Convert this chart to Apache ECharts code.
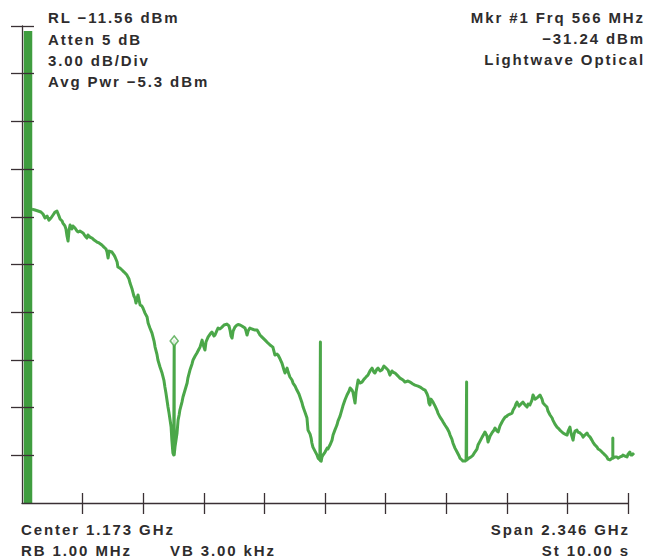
<!DOCTYPE html>
<html>
<head>
<meta charset="utf-8">
<script src="https://cdn.jsdelivr.net/npm/echarts@6/dist/echarts.min.js"></script>
<style>
  html, body { margin: 0; padding: 0; background: #ffffff; }
  #chart { width: 656px; height: 560px; }
  #chart svg text { letter-spacing: 1.9px; }
</style>
</head>
<body>
<div id="chart"></div>
<script>
// Spectrum analyser trace: frequency (MHz) and level (dBm) of each sweep point
const freqMHz = [
  15,27,39,50,58,66,74,81,89,97,
  105,112,120,124,132,135,143,147,151,155,
  159,163,170,174,182,190,194,201,213,221,
  228,232,240,248,256,267,275,286,294,302,
  306,310,314,325,333,337,345,348,356,364,
  372,383,391,395,403,406,410,414,418,426,
  434,441,445,453,461,465,472,480,488,492,
  499,503,511,519,526,530,534,538,542,546,
  550,554,557,561,564,566,566,566,569,573,
  577,581,585,588,596,600,608,616,619,627,
  635,639,647,654,662,666,674,677,685,689,
  697,705,712,720,724,732,736,743,751,759,
  770,778,782,786,790,794,801,809,813,821,
  828,840,844,848,852,859,867,879,887,894,
  898,906,918,925,929,937,948,952,956,964,
  968,976,983,991,995,1003,1007,1014,1022,1026,
  1034,1041,1049,1053,1061,1065,1072,1080,1084,1092,
  1096,1099,1103,1111,1119,1123,1130,1132,1132,1132,
  1135,1138,1142,1150,1158,1161,1169,1177,1181,1188,
  1196,1200,1208,1219,1227,1235,1243,1247,1254,1258,
  1266,1270,1278,1285,1293,1301,1305,1312,1316,1324,
  1332,1339,1343,1351,1355,1363,1370,1378,1382,1390,
  1394,1401,1409,1413,1421,1429,1436,1440,1452,1459,
  1471,1479,1490,1498,1510,1518,1529,1537,1545,1549,
  1552,1556,1560,1568,1576,1583,1587,1595,1603,1607,
  1614,1622,1630,1634,1641,1645,1653,1661,1669,1672,
  1680,1684,1692,1696,1698,1698,1698,1700,1707,1715,
  1723,1730,1738,1742,1750,1758,1765,1769,1777,1781,
  1789,1796,1804,1808,1816,1820,1827,1835,1839,1847,
  1854,1858,1866,1874,1878,1885,1889,1893,1901,1905,
  1912,1916,1924,1932,1936,1943,1951,1955,1963,1970,
  1974,1982,1990,1994,2001,2009,2013,2021,2029,2032,
  2040,2048,2052,2059,2067,2071,2079,2087,2091,2098,
  2102,2110,2114,2118,2125,2129,2137,2145,2149,2156,
  2164,2168,2176,2183,2187,2195,2203,2207,2214,2222,
  2226,2234,2241,2245,2253,2257,2261,2264,2264,2264,
  2272,2280,2284,2292,2300,2303,2311,2319,2323,2330,
  2334,2338,2346
];
const levelDbm = [
  -22.95,-23.01,-23.07,-23.13,-23.26,-23.51,-23.39,-23.64,-23.51,-23.32,
  -23.13,-23.07,-23.39,-23.57,-23.70,-23.83,-24.01,-24.20,-24.64,-24.96,
  -24.27,-23.95,-24.20,-24.01,-24.14,-24.33,-24.39,-24.33,-24.45,-24.64,
  -24.77,-24.58,-24.71,-24.77,-24.90,-25.02,-25.08,-25.21,-25.34,-25.46,
  -25.65,-26.03,-25.59,-25.65,-25.84,-25.96,-26.28,-26.59,-26.66,-26.78,
  -26.91,-27.10,-27.35,-27.60,-27.98,-28.17,-28.42,-28.54,-28.86,-28.35,
  -28.98,-29.05,-29.17,-29.49,-29.74,-30.12,-30.43,-30.75,-31.25,-31.63,
  -32.07,-32.44,-32.88,-33.26,-33.70,-34.14,-34.52,-34.96,-35.40,-35.78,
  -36.22,-36.66,-37.48,-38.29,-38.42,-38.45,-31.24,-38.40,-37.92,-37.48,
  -37.03,-36.22,-35.90,-35.59,-35.09,-34.77,-34.33,-33.89,-33.58,-33.07,
  -32.69,-32.44,-32.19,-32.00,-31.75,-31.63,-31.19,-31.44,-31.81,-31.31,
  -31.00,-30.81,-30.68,-30.93,-30.87,-30.56,-30.43,-30.49,-30.37,-30.24,
  -30.18,-30.30,-30.56,-30.93,-31.06,-30.62,-30.37,-30.24,-30.21,-30.24,
  -30.30,-30.43,-30.62,-30.87,-30.62,-30.43,-30.49,-30.56,-30.56,-30.75,
  -30.87,-31.00,-31.19,-31.31,-31.37,-31.50,-31.63,-31.88,-32.13,-32.07,
  -32.13,-32.38,-32.63,-33.07,-33.26,-32.95,-33.20,-33.51,-33.70,-33.89,
  -34.08,-34.33,-34.58,-34.77,-35.15,-35.40,-35.71,-36.09,-36.85,-37.10,
  -37.35,-37.66,-37.92,-38.17,-38.42,-38.61,-38.73,-38.76,-31.31,-38.78,
  -38.80,-38.54,-38.42,-38.23,-37.98,-38.04,-37.79,-37.48,-37.16,-36.85,
  -36.53,-36.28,-35.97,-35.34,-34.96,-34.64,-34.39,-34.20,-34.33,-34.46,
  -35.15,-34.46,-33.70,-33.89,-33.83,-33.64,-33.58,-33.45,-33.39,-33.13,
  -32.95,-33.20,-33.26,-33.01,-32.95,-33.13,-33.07,-32.82,-32.88,-33.01,
  -33.07,-33.39,-33.13,-33.20,-33.26,-33.39,-33.51,-33.58,-33.70,-33.83,
  -33.76,-33.83,-33.95,-34.02,-34.08,-34.14,-34.27,-34.33,-34.58,-34.77,
  -35.15,-35.27,-34.90,-35.09,-35.34,-35.59,-35.78,-36.03,-36.22,-36.34,
  -36.53,-36.72,-36.97,-37.16,-37.41,-37.66,-37.98,-38.23,-38.48,-38.61,
  -38.73,-38.80,-38.80,-38.73,-38.75,-33.82,-38.74,-38.73,-38.61,-38.54,
  -38.42,-38.23,-38.04,-37.79,-37.54,-37.29,-37.10,-36.97,-37.22,-37.60,
  -37.22,-37.03,-36.85,-36.72,-36.91,-36.97,-36.59,-36.34,-36.22,-36.03,
  -35.97,-35.90,-35.84,-35.78,-35.59,-35.40,-35.21,-35.09,-35.34,-35.27,
  -35.15,-35.09,-35.27,-35.40,-35.21,-35.27,-34.96,-34.64,-34.90,-34.83,
  -34.77,-34.64,-34.90,-35.15,-35.27,-35.40,-35.65,-35.90,-36.09,-36.22,
  -36.47,-36.66,-36.72,-36.85,-36.97,-37.03,-37.10,-37.16,-36.91,-36.66,
  -37.03,-37.48,-37.10,-36.91,-36.85,-36.97,-37.03,-37.16,-37.29,-37.16,
  -37.03,-37.16,-37.29,-37.48,-37.60,-37.79,-37.92,-38.04,-38.10,-38.23,
  -38.29,-38.42,-38.54,-38.67,-38.73,-38.67,-38.61,-38.62,-37.35,-38.62,
  -38.54,-38.54,-38.61,-38.54,-38.48,-38.42,-38.48,-38.54,-38.36,-38.23,
  -38.42,-38.42,-38.29
];

// Zero-frequency (LO feedthrough) response, off the top of the screen
const dcFreqMHz = [0, 0];
const dcLevelDbm = [-41.44, -11.75];

// Marker #1
const markerFreqMHz = [566];
const markerLevelDbm = [-31.24];

// Display scale
const refLevelDbm = -11.56;
const dbPerDiv = 3;
const spanMHz = 2346;
const divisions = [1, 2, 3, 4, 5, 6, 7, 8, 9, 10];

// Annotation text
const headerLeft = ['RL \u221211.56 dBm', 'Atten 5 dB', '3.00 dB/Div', 'Avg Pwr \u22125.3 dBm'];
const headerRight = ['Mkr #1 Frq 566 MHz', '\u221231.24 dBm', 'Lightwave Optical'];
const footerLeft = ['Center 1.173 GHz', 'RB 1.00 MHz'];
const footerMid = ['VB 3.00 kHz'];
const footerRight = ['Span 2.346 GHz', 'St 10.00 s'];

const GREEN = '#4ba749';
const DC_GREEN = '#3f9d3f';
const INK = '#2e2c2d';
const AXIS = '#3a3034';
const FONT = 'bold 15px "Liberation Sans", Arial, Helvetica, sans-serif';

const traceData = freqMHz.map((f, i) => [f, levelDbm[i]]);
const dcData = dcFreqMHz.map((f, i) => [f, dcLevelDbm[i]]);
const markerData = markerFreqMHz.map((f, i) => [f, markerLevelDbm[i]]);

function textItem(str, x, y, align) {
  return {
    type: 'text',
    x: x, y: y, z: 100,
    style: { text: str, fill: INK, font: FONT, textAlign: align, textVerticalAlign: 'middle' }
  };
}

const graphics = [];
const leftY = [17.2, 39.2, 60.5, 81.5];
headerLeft.forEach((t, i) => graphics.push(textItem(t, 48, leftY[i], 'left')));
const rightY = [17.7, 38.8, 59.5];
headerRight.forEach((t, i) => graphics.push(textItem(t, 645, rightY[i], 'right')));
const footY = [529, 550];
footerLeft.forEach((t, i) => graphics.push(textItem(t, 21, footY[i], 'left')));
graphics.push(textItem(footerMid[0], 170, footY[1], 'left'));
footerRight.forEach((t, i) => graphics.push(textItem(t, 630, footY[i], 'right')));

// Graticule axes: ticks that cross the frame line (one outward set, one inward set)
function gratX(inside, len, showLine) {
  return {
    gridIndex: 0, type: 'value', min: 0, max: 10, interval: 1, position: 'bottom', z: 10,
    axisLine: { show: showLine, onZero: false, lineStyle: { color: AXIS, width: 1.3 } },
    axisTick: { show: true, inside: inside, length: len, customValues: divisions,
                lineStyle: { color: AXIS, width: 1.3 } },
    axisLabel: { show: false }, splitLine: { show: false }
  };
}
function gratY(inside, len, showLine) {
  return {
    gridIndex: 0, type: 'value', min: 0, max: 10, interval: 1, position: 'left', z: 10,
    axisLine: { show: showLine, onZero: false, lineStyle: { color: AXIS, width: 1.3 } },
    axisTick: { show: true, inside: inside, length: len, customValues: divisions,
                lineStyle: { color: AXIS, width: 1.3 } },
    axisLabel: { show: false }, splitLine: { show: false }
  };
}

const chart = echarts.init(document.getElementById('chart'), null, { renderer: 'svg' });
chart.setOption({
  animation: false,
  backgroundColor: '#ffffff',
  grid: [
    { left: 22, top: 26, width: 606, height: 477 },
    { left: 28, top: 28, width: 606, height: 477 }
  ],
  xAxis: [
    gratX(false, 11, true),
    gratX(true, 10, false),
    { gridIndex: 1, type: 'value', min: 0, max: spanMHz, show: false }
  ],
  yAxis: [
    gratY(false, 11, true),
    gratY(true, 12, false),
    { gridIndex: 1, type: 'value', min: refLevelDbm - 10 * dbPerDiv, max: refLevelDbm, show: false }
  ],
  series: [
    {
      name: 'DC', type: 'line', xAxisIndex: 2, yAxisIndex: 2, data: dcData,
      showSymbol: false, symbol: 'none', z: 2,
      lineStyle: { color: DC_GREEN, width: 8.5, cap: 'butt' }
    },
    {
      name: 'Trace', type: 'line', xAxisIndex: 2, yAxisIndex: 2, data: traceData,
      showSymbol: false, symbol: 'none', z: 3,
      lineStyle: { color: GREEN, width: 3, join: 'round' }
    },
    {
      name: 'Marker', type: 'scatter', xAxisIndex: 2, yAxisIndex: 2, data: markerData,
      symbol: 'diamond', symbolSize: [8, 10], z: 4,
      itemStyle: { color: '#ffffff', borderColor: GREEN, borderWidth: 1.6 }
    }
  ],
  graphic: graphics
});
</script>
</body>
</html>
